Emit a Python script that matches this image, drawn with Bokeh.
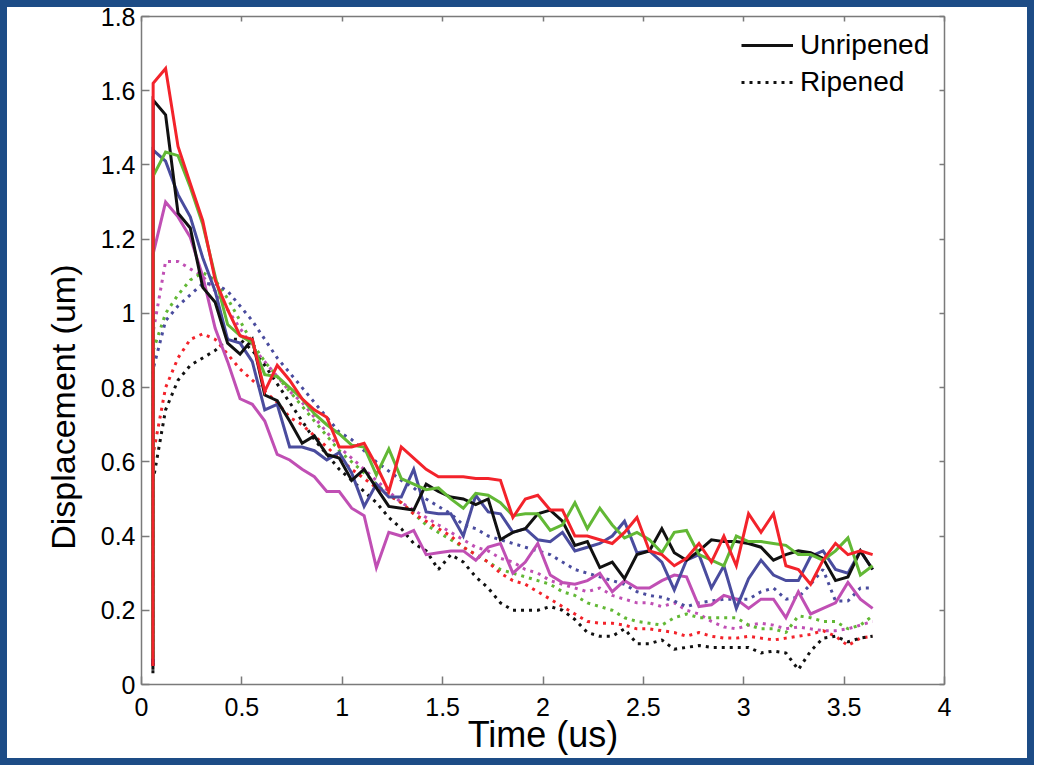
from bokeh.plotting import figure
from bokeh.models import (FixedTicker, LinearAxis, Legend, LegendItem,
                          Range1d, CustomLabelingPolicy)
from bokeh.embed import file_html
from bokeh.resources import INLINE

# ---------------- data ----------------
time_us = [0.057,
           0.058, 0.120, 0.182, 0.243, 0.305, 0.367, 0.429, 0.491, 0.552, 0.614,
           0.676, 0.738, 0.800, 0.861, 0.923, 0.985, 1.047, 1.109, 1.170, 1.232,
           1.294, 1.356, 1.418, 1.479, 1.541, 1.603, 1.665, 1.727, 1.788, 1.850,
           1.912, 1.974, 2.036, 2.097, 2.159, 2.221, 2.283, 2.345, 2.406, 2.468,
           2.530, 2.592, 2.654, 2.715, 2.777, 2.839, 2.901, 2.963, 3.024, 3.086,
           3.148, 3.210, 3.272, 3.333, 3.395, 3.457, 3.519, 3.581, 3.642]

red_unripened = [0.05,
                 1.62, 1.66, 1.45, 1.35, 1.25, 1.09, 1.01, 0.94, 0.93, 0.79,
                 0.86, 0.82, 0.77, 0.74, 0.72, 0.64, 0.64, 0.65, 0.59, 0.52,
                 0.64, 0.61, 0.58, 0.56, 0.56, 0.56, 0.555, 0.555, 0.55, 0.45,
                 0.50, 0.51, 0.47, 0.47, 0.40, 0.40, 0.39, 0.38, 0.41, 0.45,
                 0.36, 0.35, 0.32, 0.34, 0.38, 0.33, 0.40, 0.32, 0.46, 0.41,
                 0.46, 0.32, 0.31, 0.27, 0.335, 0.38, 0.35, 0.36, 0.35]

black_unripened = [0.04,
                   1.575, 1.535, 1.27, 1.23, 1.07, 1.03, 0.92, 0.89, 0.93, 0.78,
                   0.765, 0.71, 0.65, 0.67, 0.62, 0.61, 0.55, 0.58, 0.53, 0.48,
                   0.475, 0.47, 0.54, 0.52, 0.505, 0.50, 0.485, 0.50, 0.39, 0.41,
                   0.42, 0.46, 0.47, 0.44, 0.375, 0.385, 0.315, 0.33, 0.285, 0.35,
                   0.36, 0.42, 0.355, 0.335, 0.36, 0.39, 0.385, 0.385, 0.38, 0.37,
                   0.335, 0.35, 0.36, 0.355, 0.34, 0.28, 0.29, 0.36, 0.31]

blue_unripened = [0.06,
                  1.44, 1.41, 1.32, 1.26, 1.15, 1.06, 0.93, 0.92, 0.87, 0.74,
                  0.755, 0.64, 0.64, 0.63, 0.605, 0.625, 0.57, 0.48, 0.54, 0.505,
                  0.505, 0.58, 0.465, 0.46, 0.46, 0.40, 0.51, 0.465, 0.46, 0.41,
                  0.42, 0.39, 0.385, 0.41, 0.36, 0.37, 0.38, 0.40, 0.44, 0.355,
                  0.36, 0.33, 0.255, 0.335, 0.35, 0.26, 0.32, 0.205, 0.285, 0.335,
                  0.295, 0.28, 0.28, 0.345, 0.36, 0.31, 0.30, 0.36, 0.31]

green_unripened = [0.07,
                   1.37, 1.435, 1.425, 1.34, 1.24, 1.10, 0.97, 0.94, 0.92, 0.835,
                   0.83, 0.80, 0.77, 0.73, 0.70, 0.675, 0.645, 0.64, 0.565, 0.635,
                   0.555, 0.54, 0.525, 0.53, 0.50, 0.475, 0.515, 0.51, 0.49, 0.455,
                   0.46, 0.46, 0.415, 0.43, 0.49, 0.42, 0.475, 0.43, 0.395, 0.41,
                   0.39, 0.355, 0.41, 0.415, 0.35, 0.335, 0.32, 0.40, 0.385, 0.385,
                   0.38, 0.375, 0.35, 0.35, 0.335, 0.36, 0.395, 0.295, 0.32]

magenta_unripened = [0.05,
                     1.16, 1.30, 1.26, 1.205, 1.10, 0.96, 0.87, 0.77, 0.755, 0.71,
                     0.62, 0.605, 0.58, 0.56, 0.52, 0.52, 0.475, 0.455, 0.315, 0.41,
                     0.40, 0.415, 0.35, 0.355, 0.36, 0.36, 0.335, 0.37, 0.38, 0.30,
                     0.33, 0.38, 0.295, 0.275, 0.27, 0.28, 0.30, 0.25, 0.28, 0.26,
                     0.26, 0.28, 0.295, 0.29, 0.21, 0.215, 0.24, 0.23, 0.205, 0.23,
                     0.23, 0.18, 0.25, 0.19, 0.205, 0.22, 0.275, 0.23, 0.205]

red_ripened = [0.05,
               0.62, 0.80, 0.88, 0.93, 0.945, 0.93, 0.89, 0.85, 0.82, 0.79,
               0.76, 0.72, 0.70, 0.67, 0.64, 0.61, 0.58, 0.555, 0.53, 0.51,
               0.49, 0.46, 0.44, 0.42, 0.40, 0.37, 0.35, 0.33, 0.30, 0.28,
               0.27, 0.25, 0.23, 0.21, 0.19, 0.17, 0.165, 0.165, 0.16, 0.15,
               0.15, 0.145, 0.14, 0.13, 0.14, 0.13, 0.125, 0.125, 0.13, 0.125,
               0.12, 0.125, 0.13, 0.135, 0.145, 0.13, 0.105, 0.125, 0.13]

black_ripened = [0.03,
                 0.55, 0.74, 0.82, 0.86, 0.88, 0.90, 0.93, 0.93, 0.90, 0.86,
                 0.81, 0.76, 0.71, 0.66, 0.62, 0.58, 0.55, 0.52, 0.49, 0.45,
                 0.42, 0.38, 0.36, 0.31, 0.35, 0.33, 0.29, 0.26, 0.22, 0.20,
                 0.20, 0.20, 0.21, 0.20, 0.175, 0.14, 0.13, 0.13, 0.15, 0.11,
                 0.11, 0.12, 0.095, 0.10, 0.105, 0.10, 0.10, 0.10, 0.10, 0.085,
                 0.09, 0.085, 0.04, 0.09, 0.125, 0.13, 0.115, 0.125, 0.13]

blue_ripened = [0.06,
                0.85, 0.98, 1.02, 1.05, 1.08, 1.08, 1.06, 1.02, 0.98, 0.93,
                0.88, 0.84, 0.80, 0.76, 0.72, 0.68, 0.66, 0.63, 0.60, 0.575,
                0.55, 0.53, 0.50, 0.48, 0.46, 0.43, 0.42, 0.40, 0.39, 0.38,
                0.37, 0.36, 0.35, 0.33, 0.31, 0.30, 0.29, 0.28, 0.27, 0.25,
                0.24, 0.235, 0.225, 0.21, 0.22, 0.225, 0.23, 0.23, 0.23, 0.25,
                0.26, 0.23, 0.235, 0.27, 0.31, 0.225, 0.225, 0.26, 0.26]

green_ripened = [0.06,
                 0.90, 1.00, 1.05, 1.09, 1.11, 1.09, 1.04, 0.98, 0.92, 0.87,
                 0.83, 0.79, 0.75, 0.71, 0.67, 0.63, 0.60, 0.57, 0.54, 0.51,
                 0.49, 0.46, 0.43, 0.41, 0.39, 0.37, 0.35, 0.33, 0.31, 0.30,
                 0.29, 0.28, 0.27, 0.25, 0.24, 0.22, 0.21, 0.20, 0.18, 0.17,
                 0.165, 0.16, 0.18, 0.19, 0.18, 0.18, 0.18, 0.18, 0.16, 0.15,
                 0.15, 0.14, 0.185, 0.18, 0.17, 0.17, 0.15, 0.16, 0.185]

magenta_ripened = [0.05,
                   0.95, 1.14, 1.14, 1.12, 1.10, 1.06, 1.01, 0.96, 0.91, 0.87,
                   0.83, 0.79, 0.76, 0.72, 0.68, 0.64, 0.61, 0.58, 0.55, 0.52,
                   0.49, 0.47, 0.45, 0.43, 0.41, 0.39, 0.37, 0.36, 0.34, 0.33,
                   0.31, 0.30, 0.28, 0.27, 0.26, 0.25, 0.26, 0.24, 0.23, 0.22,
                   0.22, 0.21, 0.22, 0.20, 0.19, 0.17, 0.155, 0.15, 0.16, 0.165,
                   0.16, 0.15, 0.155, 0.15, 0.145, 0.145, 0.15, 0.16, 0.17]

x_ticks = [0, 0.5, 1, 1.5, 2, 2.5, 3, 3.5, 4]
x_tick_labels = ["0", "0.5", "1", "1.5", "2", "2.5", "3", "3.5", "4"]
y_ticks = [0, 0.2, 0.4, 0.6, 0.8, 1, 1.2, 1.4, 1.6, 1.8]
y_tick_labels = ["0", "0.2", "0.4", "0.6", "0.8", "1", "1.2", "1.4", "1.6", "1.8"]

legend_labels = ["Unripened", "Ripened"]
x_title = "Time (us)"
y_title = "Displacement (um)"

# ---------------- styles ----------------
FONT = "Liberation Sans"
AXIS_GRAY = "#7a7a7a"
RED = "#f3232b"
BLACK = "#111111"
BLUE = "#4a4c9e"
GREEN = "#62b835"
MAGENTA = "#c04fb4"
DOT = "3 5"

p = figure(width=1034, height=765, output_backend="svg", toolbar_location=None,
           x_range=Range1d(0, 4), y_range=Range1d(0, 1.8),
           min_border_left=141, min_border_right=90,
           min_border_top=16, min_border_bottom=81)
p.background_fill_color = "white"
p.border_fill_color = "white"
p.border_fill_alpha = 0.0
p.outline_line_color = None
p.xgrid.visible = False
p.ygrid.visible = False
p.styles = {"box-shadow": "inset 0 0 0 7px #1d4c86"}

hide_labels = CustomLabelingPolicy(code="for (const i of indices) { indices.unset(i) }")


def style_axis(ax, show_labels, tick_in):
    ax.axis_line_color = AXIS_GRAY
    ax.axis_line_width = 1.5
    ax.major_tick_line_color = AXIS_GRAY
    ax.major_tick_line_width = 1.5
    ax.major_tick_in = tick_in
    ax.major_tick_out = 0
    ax.minor_tick_line_color = None
    ax.major_label_text_font = FONT
    ax.major_label_text_color = "black"
    if show_labels:
        ax.major_label_text_font_size = "25px"
    else:
        ax.major_label_text_font_size = "1px"
        ax.major_label_standoff = 0
        ax.major_label_policy = hide_labels


xax = p.xaxis[0]
xax.ticker = FixedTicker(ticks=x_ticks)
xax.major_label_overrides = dict(zip(x_ticks, x_tick_labels))
style_axis(xax, True, 8)
xax.major_label_standoff = 13
xax.axis_label = x_title
xax.axis_label_text_font = FONT
xax.axis_label_text_font_size = "36px"
xax.axis_label_text_font_style = "normal"
xax.axis_label_text_color = "black"
xax.axis_label_standoff = -5

yax = p.yaxis[0]
yax.ticker = FixedTicker(ticks=y_ticks)
yax.major_label_overrides = dict(zip(y_ticks, y_tick_labels))
style_axis(yax, True, 8)
yax.major_label_standoff = 6
# the title sits lower than the axis centre in the original: pad its far end
yax.axis_label = y_title + "\u00a0" * 12
yax.axis_label_text_font = FONT
yax.axis_label_text_font_size = "34px"
yax.axis_label_text_font_style = "normal"
yax.axis_label_text_color = "black"
yax.axis_label_standoff = 16

top_ax = LinearAxis(ticker=FixedTicker(ticks=x_ticks))
style_axis(top_ax, False, 5)
p.add_layout(top_ax, "above")

right_ax = LinearAxis(ticker=FixedTicker(ticks=y_ticks))
style_axis(right_ax, False, 5)
p.add_layout(right_ax, "right")

# ---------------- series ----------------
renderers = {}
ripened = [("magenta_r", magenta_ripened, MAGENTA), ("green_r", green_ripened, GREEN),
           ("blue_r", blue_ripened, BLUE), ("red_r", red_ripened, RED),
           ("black_r", black_ripened, BLACK)]
unripened = [("magenta_u", magenta_unripened, MAGENTA), ("blue_u", blue_unripened, BLUE),
             ("black_u", black_unripened, BLACK), ("green_u", green_unripened, GREEN),
             ("red_u", red_unripened, RED)]

for name, vals, col in ripened:
    renderers[name] = p.line(time_us, vals, line_color=col, line_width=3, line_dash=DOT)
for name, vals, col in unripened:
    renderers[name] = p.line(time_us, vals, line_color=col, line_width=3, line_join="miter")

legend = Legend(items=[LegendItem(label=legend_labels[0], renderers=[renderers["black_u"]]),
                       LegendItem(label=legend_labels[1], renderers=[renderers["black_r"]])],
                location=(600, 585))
legend.border_line_color = None
legend.background_fill_alpha = 0
legend.label_text_font = FONT
legend.label_text_font_size = "28px"
legend.label_text_color = "black"
legend.glyph_width = 52
legend.glyph_height = 34
legend.label_height = 34
legend.spacing = 3
legend.padding = 8
legend.margin = 0
legend.label_standoff = 7
p.add_layout(legend)

open("out.html", "w").write(file_html(p, INLINE))
